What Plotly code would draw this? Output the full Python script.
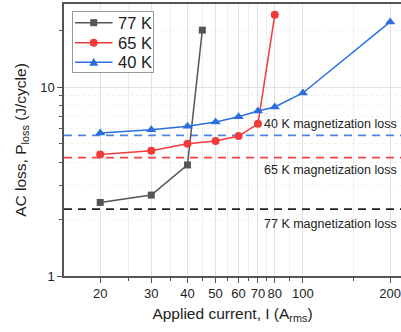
import plotly.graph_objects as go
import numpy as np

# Data
current_77 = [20, 30, 40, 45]
loss_77 = [2.45, 2.68, 3.87, 20.0]
current_65 = [20, 30, 40, 50, 60, 70, 80]
loss_65 = [4.40, 4.60, 5.01, 5.18, 5.50, 6.39, 24.1]
current_40 = [20, 30, 40, 50, 60, 70, 80, 100, 200]
loss_40 = [5.71, 5.94, 6.20, 6.53, 6.96, 7.46, 7.84, 9.3, 22.1]

series_names = ["77 K", "65 K", "40 K"]

mag_labels = ["40 K magnetization loss", "65 K magnetization loss", "77 K magnetization loss"]
mag_values = [5.55, 4.23, 2.26]
mag_label_y = [6.37, 3.64, 1.88]

x_ticks = [20, 30, 40, 50, 60, 70, 80, 100, 200]
x_minor = [25, 35, 45, 55, 65, 75, 90, 150]
y_ticks = [1, 10]
y_minor = [2, 3, 4, 5, 6, 7, 8, 9, 20]

x_range = [15, 218]
y_range = [1, 27.5]

c77 = "#555555"
c65 = "#f23a3a"
c40 = "#2a6fdf"
series_colors = [c77, c65, c40]
dash_colors = ["#4a86e0", "#f04545", "#222222"]

W, H = 401, 332
ML, MR, MT, MB = 64, 0, 4, 56
PW, PH = W - ML - MR, H - MT - MB


def px_x(px):
    return (px - ML) / PW


def px_y(py):
    return (H - MB - py) / PH


fig = go.Figure()

for val, col in zip(mag_values, dash_colors):
    fig.add_trace(go.Scatter(x=x_range, y=[val, val], mode="lines",
                             line=dict(color=col, width=1.8, dash="8px,6px"),
                             showlegend=False, hoverinfo="skip"))

fig.add_trace(go.Scatter(x=current_77, y=loss_77, mode="lines+markers", name=series_names[0],
                         line=dict(color=c77, width=1.5), showlegend=False,
                         marker=dict(symbol="square", size=7, color=c77)))
fig.add_trace(go.Scatter(x=current_65, y=loss_65, mode="lines+markers", name=series_names[1],
                         line=dict(color=c65, width=1.5), showlegend=False,
                         marker=dict(symbol="circle", size=8, color=c65)))
fig.add_trace(go.Scatter(x=current_40, y=loss_40, mode="lines+markers", name=series_names[2],
                         line=dict(color=c40, width=1.5), showlegend=False,
                         marker=dict(symbol="triangle-up", size=9, color=c40)))

for lab, ly in zip(mag_labels, mag_label_y):
    fig.add_annotation(x=0.993, xref="paper", y=np.log10(ly), yref="y",
                       text=lab, showarrow=False, xanchor="right", yanchor="middle",
                       font=dict(size=12.5, color="#222222"))

# Hand-built legend (box, sample lines, markers, labels)
shapes = []
shapes.append(dict(type="rect", xref="paper", yref="paper",
                   x0=px_x(72.5), x1=px_x(153.5), y0=px_y(72.5), y1=px_y(11.5),
                   line=dict(color="#999999", width=1), fillcolor="white", layer="above"))
entry_y = [22.7, 42.7, 62.3]
mx = px_x(93.7)
for i, (ey, col) in enumerate(zip(entry_y, series_colors)):
    yy = px_y(ey)
    shapes.append(dict(type="line", xref="paper", yref="paper",
                       x0=px_x(75), x1=px_x(112.5), y0=yy, y1=yy,
                       line=dict(color=col, width=1.5), layer="above"))
    if i == 0:
        shapes.append(dict(type="rect", xref="paper", yref="paper",
                           xsizemode="pixel", ysizemode="pixel", xanchor=mx, yanchor=yy,
                           x0=-3.5, x1=3.5, y0=-3.5, y1=3.5,
                           line=dict(width=0), fillcolor=col, layer="above"))
    elif i == 1:
        shapes.append(dict(type="circle", xref="paper", yref="paper",
                           xsizemode="pixel", ysizemode="pixel", xanchor=mx, yanchor=yy,
                           x0=-4, x1=4, y0=-4, y1=4,
                           line=dict(width=0), fillcolor=col, layer="above"))
    else:
        shapes.append(dict(type="path", xref="paper", yref="paper",
                           xsizemode="pixel", ysizemode="pixel", xanchor=mx, yanchor=yy,
                           path="M -4.5 -3.5 L 4.5 -3.5 L 0 4.5 Z",
                           line=dict(width=0), fillcolor=col, layer="above"))
    fig.add_annotation(x=px_x(115.5), y=yy, xref="paper", yref="paper",
                       text=series_names[i], showarrow=False, xanchor="left", yanchor="middle",
                       font=dict(size=16.5, color="#222222"))

font_family = "Liberation Sans, Arial, sans-serif"
axis_col = "#555555"

fig.update_layout(
    width=W, height=H,
    margin=dict(l=ML, r=MR, t=MT, b=MB),
    paper_bgcolor="white", plot_bgcolor="white",
    font=dict(family=font_family, color="#222222"),
    showlegend=False,
    shapes=shapes,
    xaxis=dict(type="log", range=[np.log10(x_range[0]), np.log10(x_range[1])],
               tickvals=x_ticks, ticktext=[str(v) for v in x_ticks],
               ticks="outside", ticklen=5, tickwidth=1.2, tickcolor=axis_col,
               showline=True, linecolor=axis_col, linewidth=1.5, mirror=True,
               showgrid=True, gridcolor="#e2e2e2", gridwidth=1,
               minor=dict(tickvals=x_minor, ticks="outside", ticklen=3, tickcolor=axis_col,
                          showgrid=True, gridcolor="#efefef"),
               tickfont=dict(size=13, color="#222222"), ticklabeloverflow="allow",
               title=dict(text="Applied current, I (A<sub>rms</sub>)", font=dict(size=15.5), standoff=8),
               zeroline=False, automargin=False),
    yaxis=dict(type="log", range=[np.log10(y_range[0]), np.log10(y_range[1])],
               tickvals=y_ticks, ticktext=["1", "10"],
               ticks="outside", ticklen=5, tickwidth=1.2, tickcolor=axis_col,
               showline=True, linecolor=axis_col, linewidth=1.5, mirror=False,
               showgrid=True, gridcolor="#e2e2e2", gridwidth=1,
               minor=dict(tickvals=y_minor, ticks="outside", ticklen=3, tickcolor=axis_col,
                          showgrid=True, gridcolor="#f0f0f0", griddash="dot"),
               tickfont=dict(size=13, color="#222222"),
               title=dict(text="AC loss, P<sub>loss</sub> (J/cycle)", font=dict(size=15.5), standoff=10),
               zeroline=False, automargin=False),
)

fig.write_html("out.html", config={"displayModeBar": False},
               post_script="document.body.style.margin='0px';document.body.style.overflow='hidden';")
